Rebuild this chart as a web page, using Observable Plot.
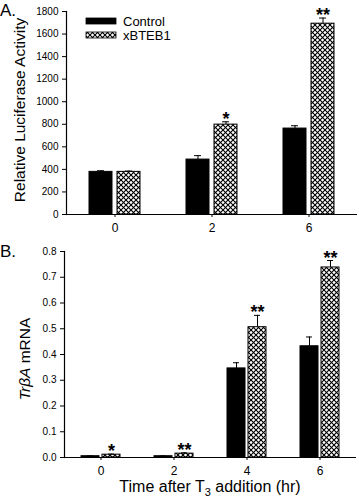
<!DOCTYPE html>
<html><head><meta charset="utf-8">
<script src="https://cdn.jsdelivr.net/npm/d3@7"></script>
<script src="https://cdn.jsdelivr.net/npm/@observablehq/plot@0.6"></script>
<style>
body{margin:0;background:#fff;}
#chart{position:relative;width:359px;height:500px;font-family:"Liberation Sans",Arial,sans-serif;}
#chart svg{display:block;}
</style>
</head><body>
<svg width="0" height="0" style="position:absolute">
  <defs>
    <pattern id="hatch" patternUnits="userSpaceOnUse" width="5" height="5">
      <rect width="5" height="5" fill="#fff"/>
      <path d="M-1,1 L1,-1 M0,5 L5,0 M4,6 L6,4" stroke="#000" stroke-width="1.1"/>
      <path d="M-1,4 L1,6 M0,0 L5,5 M4,-1 L6,1" stroke="#000" stroke-width="1.1"/>
    </pattern>
  </defs>
</svg>
<div id="chart"></div>
<script>
const seriesNames = ["Control", "xBTEB1"];

// Panel A: Relative Luciferase Activity
const timesA = ["0", "2", "6"];
const controlA = [378, 487, 762];
const xbteb1A = [378, 797, 1692];
const controlErrA = [10, 35, 25];
const xbteb1ErrA = [7, 25, 50];
const sigA = ["", "*", "**"];

// Panel B: TrbA mRNA
const timesB = ["0", "2", "4", "6"];
const controlB = [0.005, 0.005, 0.346, 0.432];
const xbteb1B = [0.011, 0.015, 0.506, 0.738];
const controlErrB = [0.001, 0.001, 0.022, 0.036];
const xbteb1ErrB = [0.002, 0.003, 0.046, 0.027];
const sigB = ["*", "**", "**", "**"];

function rows(times, c, x, ce, xe, sig) {
  const out = [];
  times.forEach((t, i) => {
    out.push({time: t, series: seriesNames[0], value: c[i], err: ce[i], sig: ""});
    out.push({time: t, series: seriesNames[1], value: x[i], err: xe[i], sig: sig[i]});
  });
  return out;
}

const font = '"Liberation Sans", Arial, sans-serif';

function panel(data, cfg) {
  return Plot.plot({
    width: 359,
    height: cfg.height,
    marginLeft: cfg.ml, marginRight: cfg.mr, marginTop: cfg.mt, marginBottom: cfg.mb,
    style: {fontFamily: font, fontSize: "10px", color: "#000", background: "#fff", overflow: "visible"},
    fx: {domain: cfg.times, padding: 0, label: null, axis: null},
    x: {domain: seriesNames, paddingInner: cfg.pi, paddingOuter: cfg.po, axis: null},
    y: {domain: cfg.ydomain, axis: null},
    marks: [
      Plot.barY(data.filter(d => d.series === "Control"), {fx: "time", x: "series", y: "value", fill: "#000", stroke: "#000", strokeWidth: 1}),
      Plot.barY(data.filter(d => d.series === "xBTEB1"), {fx: "time", x: "series", y: "value", fill: "url(#hatch)", stroke: "#000", strokeWidth: 1}),
      Plot.ruleX(data, {fx: "time", x: "series", y1: "value", y2: d => d.value + d.err, stroke: "#000", strokeWidth: 1}),
      Plot.tickY(data, {fx: "time", x: "series", y: d => d.value + d.err, stroke: "#000", strokeWidth: 1, insetLeft: cfg.capInset, insetRight: cfg.capInset}),
      Plot.text(data, {fx: "time", x: "series", y: d => d.value + d.err, text: "sig", lineAnchor: "bottom", dy: cfg.starDy, fontSize: 18, fontWeight: "bold"}),
      Plot.ruleY([0], {stroke: "#000", strokeWidth: 1.2}),
      Plot.frame({anchor: "left", facetAnchor: "left", stroke: "#000", strokeWidth: 1.2}),
      Plot.axisY({facetAnchor: "left", ticks: cfg.yticks, tickFormat: cfg.yfmt, tickSize: 4, tickPadding: 4, label: null, fontSize: 10}),
      Plot.axisFx({anchor: "bottom", tickSize: 3, tickPadding: 6, label: null, fontSize: 12})
    ]
  });
}

const chart = document.getElementById("chart");

const svgA = panel(rows(timesA, controlA, xbteb1A, controlErrA, xbteb1ErrA, sigA), {
  times: timesA, height: 235, ml: 65, mr: 1, mt: 11, mb: 21,
  pi: 5 / 29, po: 0.76, ydomain: [0, 1800], yticks: d3.range(0, 1801, 200), yfmt: d3.format("d"),
  capInset: 8, starDy: 3
});
const svgB = panel(rows(timesB, controlB, xbteb1B, controlErrB, xbteb1ErrB, sigB), {
  times: timesB, height: 265, ml: 64, mr: 3, mt: 16, mb: 43,
  pi: 0.16, po: 0.74, ydomain: [0, 0.8], yticks: d3.range(0, 0.81, 0.1), yfmt: d3.format(".1f"),
  capInset: 6, starDy: 3
});
chart.appendChild(svgA);
chart.appendChild(svgB);

// Panel letters, axis titles and legend
const sA = d3.select(svgA), sB = d3.select(svgB);
sA.append("text").attr("x", 0).attr("y", 16).attr("text-anchor", "start").attr("font-size", 17).attr("font-family", font).attr("fill", "#000").text("A.");
sB.append("text").attr("x", 0).attr("y", 22).attr("text-anchor", "start").attr("font-size", 17).attr("font-family", font).attr("fill", "#000").text("B.");

sA.append("text").attr("transform", "translate(25,110) rotate(-90)").attr("text-anchor", "middle")
  .attr("font-size", 15.5).attr("font-family", font).attr("fill", "#000").text("Relative Luciferase Activity");

const yb = sB.append("text").attr("transform", "translate(30,124) rotate(-90)").attr("text-anchor", "middle")
  .attr("font-size", 15.5).attr("font-family", font).attr("fill", "#000");
yb.append("tspan").attr("font-style", "italic").text("Tr\u03B2A");
yb.append("tspan").text(" mRNA");

const xt = sB.append("text").attr("x", 210).attr("y", 257).attr("text-anchor", "middle")
  .attr("font-size", 16).attr("font-family", font).attr("fill", "#000");
xt.append("tspan").text("Time after T");
xt.append("tspan").attr("font-size", 11).attr("dy", 4).text("3");
xt.append("tspan").attr("dy", -4).text(" addition (hr)");

const leg = sA.append("g").attr("font-family", font).attr("font-size", 13).attr("fill", "#000").attr("text-anchor", "start");
seriesNames.forEach((name, i) => {
  leg.append("rect").attr("x", 86).attr("y", 18 + i * 14).attr("width", 30).attr("height", 6)
    .attr("fill", i === 0 ? "#000" : "url(#hatch)").attr("stroke", "#000").attr("stroke-width", 0.8);
  leg.append("text").attr("x", 123).attr("y", 26 + i * 14).text(name);
});
</script>
</body></html>
